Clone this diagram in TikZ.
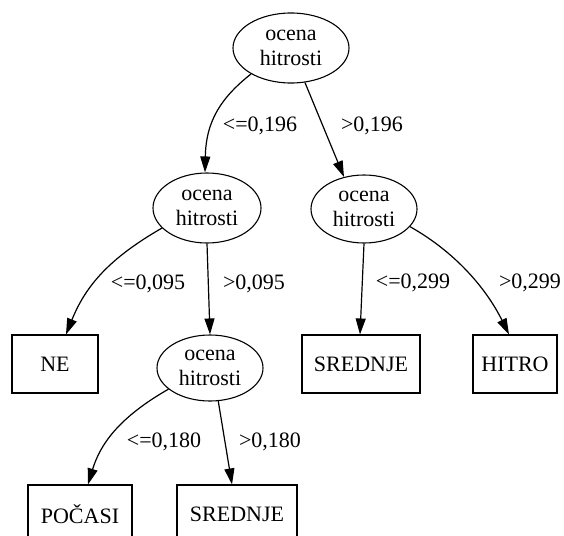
\documentclass[tikz,border=0pt]{standalone}
\usepackage{fontspec}
\setmainfont{Liberation Serif}
\usetikzlibrary{shapes.geometric,arrows.meta,calc}
\begin{document}
\begin{tikzpicture}[x=1pt,y=-1pt,
  every node/.style={font=\rmfamily\fontsize{22}{25}\selectfont},
  test/.style={ellipse,draw,line width=1.1pt,inner sep=0pt,align=center},
  leaf/.style={rectangle,draw,line width=1.1pt,inner sep=0pt,minimum height=58pt},
  edge/.style={line width=1.2pt,-{Triangle[length=16pt,width=10pt]}},
  lbl/.style={inner sep=0pt}]
\useasboundingbox (0,0) rectangle (564,535);

% decision nodes
\node[test,minimum width=116pt,minimum height=70pt] (root) at (291,48) {ocena\\hitrosti};
\node[test,minimum width=108pt,minimum height=70pt] (l) at (207,208) {ocena\\hitrosti};
\node[test,minimum width=106pt,minimum height=68pt] (r) at (364,209) {ocena\\hitrosti};
\node[test,minimum width=106pt,minimum height=66pt] (m) at (210,368) {ocena\\hitrosti};

% leaves
\node[leaf,minimum width=86pt]  (ne)  at (55,364)  {NE};
\node[leaf,minimum width=118pt] (sr)  at (361,364) {SREDNJE};
\node[leaf,minimum width=84pt]  (hi)  at (515,364) {HITRO};
\node[leaf,minimum width=104pt] (po)  at (80,514)  {POČASI};
\node[leaf,minimum width=120pt] (sr2) at (237,514) {SREDNJE};

% branches
\draw[edge] (root.213) .. controls (222,97) and (206,120) .. ($(l.north)+(-2,0)$);
\draw[edge] (root.292) -- (r.122);
\draw[edge] (l.204) .. controls (110,258) and (86,285) .. ($(ne.north)+(11,0)$);
\draw[edge] (l.270) -- (m.north);
\draw[edge] (m.207) .. controls (118,418) and (100,445) .. ($(po.north)+(8,0)$);
\draw[edge] (m.284) -- ($(sr2.north)+(-5,0)$);
\draw[edge] (r.270) -- ($(sr.north)+(-1,0)$);
\draw[edge] (r.339) .. controls (455,252) and (486,288) .. ($(hi.north)+(-6,0)$);

% branch labels
\node[lbl] (a1) at (260,126) {<=0,196};
\node[lbl] (a2) at (372,126) {>0,196};
\node[lbl] (b1) at (148,284) {<=0,095};
\node[lbl] (b2) at (254,284) {>0,095};
\node[lbl] (c1) at (413,283) {<=0,299};
\node[lbl] (c2) at (530,283) {>0,299};
\node[lbl] (d1) at (164,442) {<=0,180};
\node[lbl] (d2) at (270,442) {>0,180};
\end{tikzpicture}
\end{document}
